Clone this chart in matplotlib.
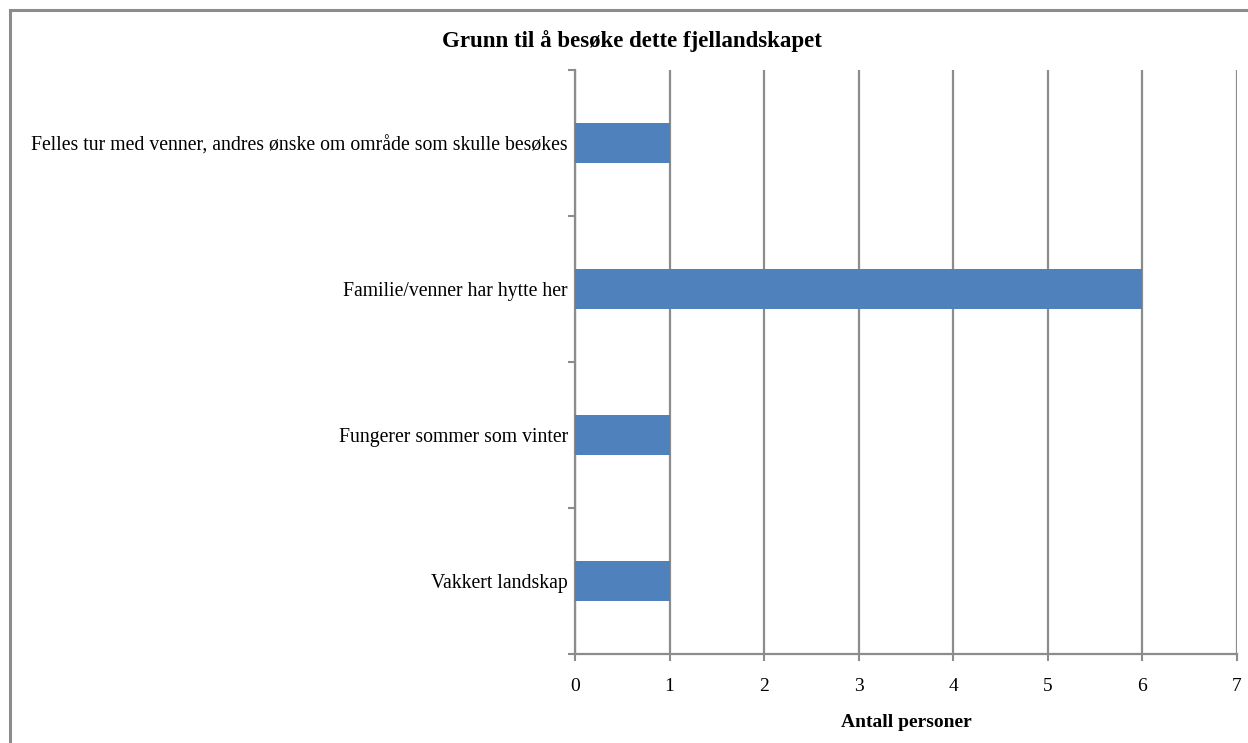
import matplotlib.pyplot as plt
from matplotlib.patches import Rectangle

categories = [
    "Vakkert landskap",
    "Fungerer sommer som vinter",
    "Familie/venner har hytte her",
    "Felles tur med venner, andres ønske om område som skulle besøkes",
]
values = [1, 1, 6, 1]
xticks = [0, 1, 2, 3, 4, 5, 6, 7]

plt.rcParams["font.family"] = ["Liberation Serif", "DejaVu Serif"]
grey = "#8c8c8c"
bar_color = "#4f81bd"

fig = plt.figure(figsize=(12.48, 7.43), dpi=100)
ax = fig.add_axes([575 / 1248, 1 - 654 / 743, 662 / 1248, 584 / 743])

# outer chart border (only left/top visible in the reference)
fig.patches.append(Rectangle((10 / 1248, -0.1), 1.2, 1 - 10 / 743 + 0.1,
                             transform=fig.transFigure, fill=False,
                             edgecolor=grey, linewidth=2.2))

ypos = list(range(len(categories)))
ax.barh(ypos, values, height=0.28, color=bar_color, zorder=3)

ax.set_xlim(0, 7)
ax.set_ylim(-0.5, len(categories) - 0.5)
ax.set_xticks(xticks)
ax.set_xticklabels([str(t) for t in xticks], fontsize=14)
ax.set_yticks(ypos)
ax.set_yticklabels(categories, fontsize=14.2)
ax.set_yticks([i - 0.5 for i in range(len(categories) + 1)], minor=True)

ax.tick_params(axis="y", which="major", length=0, pad=5)
ax.tick_params(axis="y", which="minor", length=5, width=1.5, color=grey, direction="out")
ax.tick_params(axis="x", length=5, width=1.5, color=grey, direction="out", pad=12)

ax.grid(axis="x", color=grey, linewidth=1.6, zorder=0)
for side in ["top", "right"]:
    ax.spines[side].set_visible(False)
for side in ["left", "bottom"]:
    ax.spines[side].set_color(grey)
    ax.spines[side].set_linewidth(1.6)

ax.set_xlabel("Antall personer", fontsize=14, fontweight="bold", labelpad=14)
fig.text(632 / 1248, 1 - 41 / 743, "Grunn til å besøke dette fjellandskapet",
         ha="center", va="center", fontsize=16.5, fontweight="bold")

fig.savefig("out.png", dpi=100)
